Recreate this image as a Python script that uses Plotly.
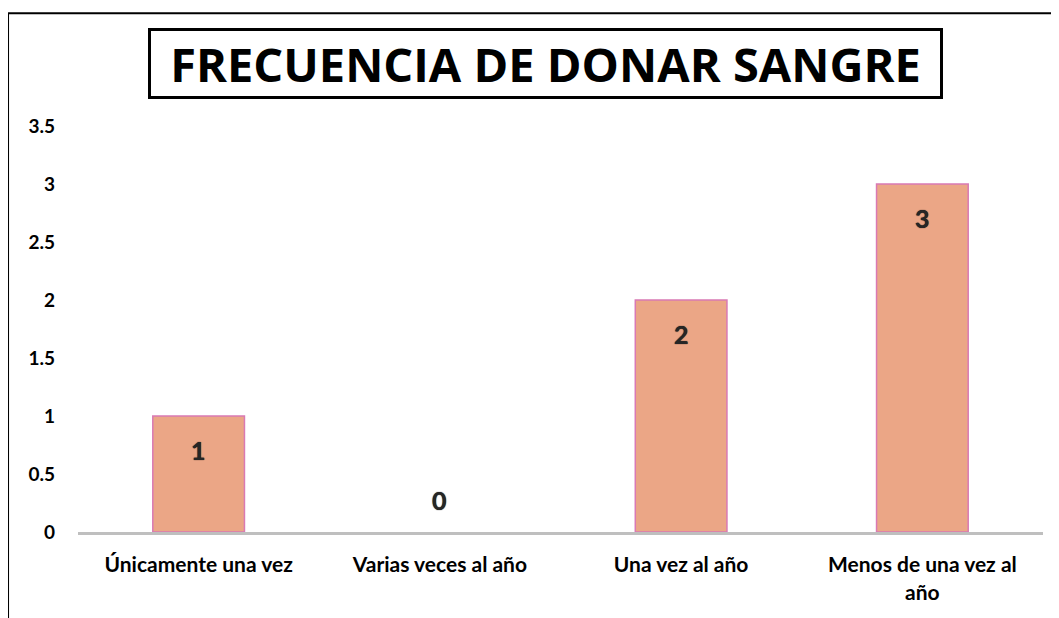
import plotly.graph_objects as go

categories = ["Únicamente una vez", "Varias veces al año", "Una vez al año", "Menos de una vez al<br>año"]
values = [1, 0, 2, 3]
y_ticks = [0, 0.5, 1, 1.5, 2, 2.5, 3, 3.5]
y_tick_labels = ["0", "0.5", "1", "1.5", "2", "2.5", "3", "3.5"]
title_text = "FRECUENCIA DE DONAR SANGRE"

FONT = "Lato"

fig = go.Figure()
fig.add_trace(go.Bar(
    x=categories, y=values,
    width=0.38,
    marker=dict(color="#EBA686",
                line=dict(color="#D97AB4", width=[1.5 if v > 0 else 0 for v in values])),
    hoverinfo="x+y",
))

for c, v in zip(categories, values):
    fig.add_annotation(
        x=c, y=v, xref="x", yref="y",
        text=f"<b>{v}</b>", showarrow=False,
        yshift=-34 if v > 0 else 32,
        font=dict(family=FONT, size=25, color="#262626", shadow="0px 0px 1px #000000"),
    )

fig.add_annotation(
    xref="paper", yref="paper", x=0.4845, y=1.154, xanchor="center", yanchor="middle",
    text=f"<b>{title_text}</b>", showarrow=False,
    width=789, height=65, borderwidth=3, bordercolor="#000000", borderpad=0,
    bgcolor="#FFFFFF",
    font=dict(family="Open Sans", size=47, color="#000000"),
)

# outer frame (left and top edges)
fig.add_shape(type="line", xref="paper", yref="paper", x0=-0.0725, x1=-0.0725, y0=-0.3, y1=1.278,
              line=dict(color="#000000", width=2))
fig.add_shape(type="line", xref="paper", yref="paper", x0=-0.0725, x1=1.1, y0=1.278, y1=1.278,
              line=dict(color="#000000", width=2))

fig.update_layout(
    width=1051, height=610,
    margin=dict(l=70, r=16, t=118, b=86),
    paper_bgcolor="#FFFFFF", plot_bgcolor="#FFFFFF",
    showlegend=False,
    font=dict(family=FONT, color="#000000"),
)
fig.update_xaxes(
    showgrid=False, showline=True, linecolor="#BFBFBF", linewidth=3,
    ticks="", tickfont=dict(family=FONT, size=21, color="#000000", weight="bold"),
    ticklabelstandoff=12,
)
fig.update_yaxes(
    range=[0, 3.5], showgrid=False, showline=False, zeroline=False,
    tickmode="array", tickvals=y_ticks, ticktext=y_tick_labels,
    tickfont=dict(family=FONT, size=19, color="#000000", weight="bold"),
    ticks="", ticklabelstandoff=22,
)

fig.write_html("out.html")
